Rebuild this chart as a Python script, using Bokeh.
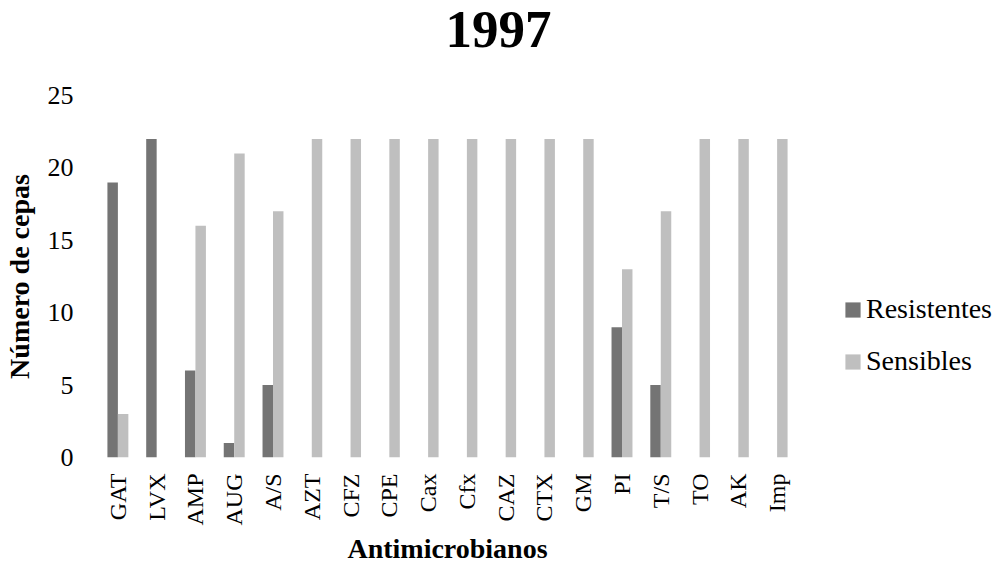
import math
from bokeh.plotting import figure
from bokeh.models import ColumnDataSource, FactorRange, Range1d, Legend, LegendItem, FixedTicker, Title
from bokeh.transform import dodge
from bokeh.embed import file_html
from bokeh.resources import INLINE

categories = ["GAT", "LVX", "AMP", "AUG", "A/S", "AZT", "CFZ", "CPE", "Cax", "Cfx",
              "CAZ", "CTX", "GM", "PI", "T/S", "TO", "AK", "Imp"]
resistentes = [19, 22, 6, 1, 5, 0, 0, 0, 0, 0, 0, 0, 0, 9, 5, 0, 0, 0]
sensibles = [3, 0, 16, 21, 17, 22, 22, 22, 22, 22, 22, 22, 22, 13, 17, 22, 22, 22]
y_ticks = [0, 5, 10, 15, 20, 25]
series_names = ["Resistentes", "Sensibles"]
series_colors = ["#747474", "#bfbfbf"]
title_text = "1997"
x_title = "Antimicrobianos"
y_title = "Número de cepas"

FONT = "Liberation Serif"

source = ColumnDataSource(data=dict(cat=categories, res=resistentes, sen=sensibles))

FW, FH = 698, 362
p = figure(x_range=FactorRange(*categories), y_range=Range1d(0, 25),
           frame_width=FW, frame_height=FH, output_backend="svg", toolbar_location=None,
           min_border_left=90, min_border_right=202, min_border_top=95, min_border_bottom=108)

bw = 0.27
r1 = p.vbar(x=dodge("cat", -bw / 2, range=p.x_range), top="res", width=bw, source=source,
            fill_color=series_colors[0], line_color=None)
r2 = p.vbar(x=dodge("cat", bw / 2, range=p.x_range), top="sen", width=bw, source=source,
            fill_color=series_colors[1], line_color=None)

# empty spacer panel between the frame and the chart title
p.add_layout(Title(text=" ", text_font_size="2px", standoff=60), "above")

p.title.text = title_text
p.title.align = "left"
p.title.offset = 347
p.title.vertical_align = "bottom"
p.title.standoff = -30
p.title.text_font = FONT
p.title.text_font_size = "53px"
p.title.text_font_style = "bold"
p.title.text_color = "#000000"

p.outline_line_color = None
p.grid.visible = False
p.background_fill_color = "white"
p.border_fill_color = "white"

p.yaxis.ticker = FixedTicker(ticks=y_ticks)
for ax in (p.xaxis[0], p.yaxis[0]):
    ax.axis_line_color = None
    ax.major_tick_line_color = None
    ax.minor_tick_line_color = None
    ax.major_tick_out = 0
    ax.major_tick_in = 0
    ax.major_label_text_font = FONT
    ax.major_label_text_color = "#000000"
    ax.axis_label_text_font = FONT
    ax.axis_label_text_font_style = "bold"
    ax.axis_label_text_font_size = "28px"
    ax.axis_label_text_color = "#000000"

p.yaxis.major_label_text_font_size = "26px"
p.yaxis.major_label_standoff = 25
p.yaxis.axis_label = y_title
p.yaxis.axis_label_standoff = 10

p.xaxis.major_label_text_font_size = "24px"
p.xaxis.major_label_orientation = math.pi / 2
p.xaxis.major_label_standoff = 16
p.xaxis.axis_label = x_title
p.xaxis.axis_label_standoff = 4

legend = Legend(items=[LegendItem(label=series_names[0], renderers=[r1]),
                       LegendItem(label=series_names[1], renderers=[r2])],
                location=(47, 80), orientation="vertical",
                glyph_width=19, glyph_height=19, label_standoff=4,
                label_text_font=FONT, label_text_font_size="28px", label_text_color="#000000",
                spacing=20, padding=0, margin=0,
                border_line_color=None, background_fill_alpha=0)
p.add_layout(legend, "right")

open("out.html", "w").write(file_html(p, INLINE))
